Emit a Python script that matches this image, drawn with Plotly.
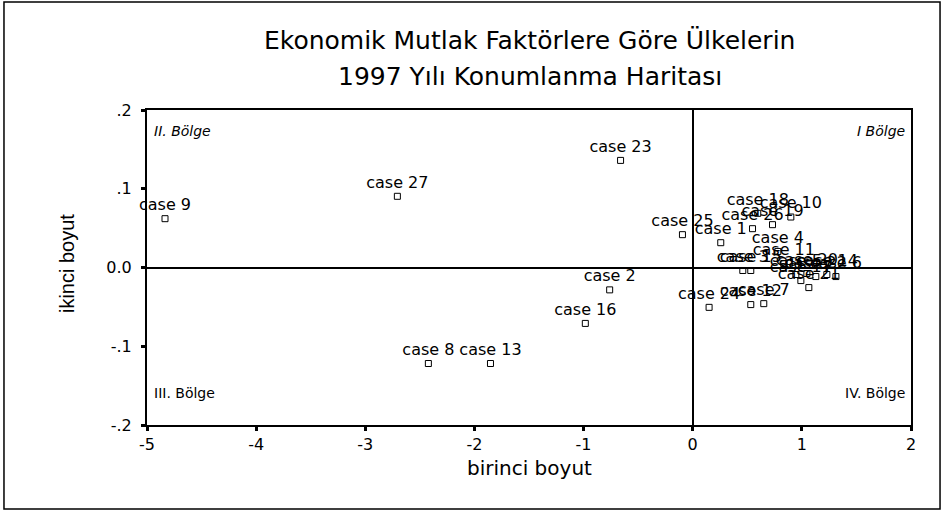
import plotly.graph_objects as go

# ---- data ----
case_labels = [f"case {i}" for i in range(1, 28)]
birinci_boyut = [0.257, -0.761, 0.459, 0.780, 0.945, 1.312, 0.651, -2.422, -4.835, 0.899,
                 0.835, 0.532, -1.853, 1.229, 0.532, -0.984, 0.991, 0.596, 0.731, 1.046,
                 1.064, 1.128, -0.661, 0.150, -0.094, 0.548, -2.706]
ikinci_boyut = [0.0315, -0.0284, -0.0038, 0.0204, -0.0089, -0.0115, -0.0459, -0.1219, 0.062, 0.0641,
                0.0051, -0.0471, -0.1219, -0.0089, -0.0038, -0.071, -0.0166, 0.0688, 0.0544, -0.0076,
                -0.0255, -0.0115, 0.136, -0.0506, 0.0417, 0.0493, 0.0904]

x_ticks = [-5, -4, -3, -2, -1, 0, 1, 2]
x_ticktext = ["-5", "-4", "-3", "-2", "-1", "0", "1", "2"]
y_ticks = [-0.2, -0.1, 0.0, 0.1, 0.2]
y_ticktext = ["-.2", "-.1", "0.0", ".1", ".2"]

title_lines = ["Ekonomik Mutlak Faktörlere Göre Ülkelerin", "1997 Yılı Konumlanma Haritası"]
quadrants = ["II. Bölge", "I Bölge", "III. Bölge", "IV. Bölge"]

FONT = "DejaVu Sans"

fig = go.Figure()
fig.add_trace(go.Scatter(
    x=birinci_boyut, y=ikinci_boyut, text=case_labels,
    mode="markers+text", textposition="top center",
    marker=dict(symbol="square-open", size=6, color="black", line=dict(width=1, color="black")),
    textfont=dict(family=FONT, size=16, color="black"),
    cliponaxis=False, showlegend=False, hoverinfo="text",
))

axis_common = dict(showline=True, linecolor="black", linewidth=2, mirror=True,
                   showgrid=False, zeroline=True, zerolinecolor="black", zerolinewidth=1.5,
                   ticks="outside", ticklen=4, tickwidth=3, tickcolor="black",
                   tickfont=dict(family=FONT, size=16, color="black"))

fig.update_xaxes(range=[-5, 2], tickvals=x_ticks, ticktext=x_ticktext, **axis_common)
fig.update_yaxes(range=[-0.2, 0.2], tickvals=y_ticks, ticktext=y_ticktext,
                 ticklabelstandoff=6, **axis_common)

ann = []
ann.append(dict(text=title_lines[0], x=0.5013, y=1.2222, xref="paper", yref="paper",
                showarrow=False, xanchor="center", yanchor="middle",
                font=dict(family=FONT, size=25, color="black")))
ann.append(dict(text=title_lines[1], x=0.5013, y=1.1048, xref="paper", yref="paper",
                showarrow=False, xanchor="center", yanchor="middle",
                font=dict(family=FONT, size=25, color="black")))
ann.append(dict(text="birinci boyut", x=0.5, y=-0.1365, xref="paper", yref="paper",
                showarrow=False, xanchor="center", yanchor="middle",
                font=dict(family=FONT, size=20, color="black")))
ann.append(dict(text="ikinci boyut", x=-0.1047, y=0.511, xref="paper", yref="paper",
                showarrow=False, xanchor="center", yanchor="middle", textangle=-90,
                font=dict(family="Liberation Sans", size=20, color="black")))
qpos = [(0.0065, 0.933, "left", "italic"), (0.9948, 0.933, "right", "italic"),
        (0.0065, 0.1016, "left", "normal"), (0.9948, 0.1016, "right", "normal")]
for label, (qx, qy, anchor, style) in zip(quadrants, qpos):
    ann.append(dict(text=label, x=qx, y=qy, xref="paper", yref="paper", showarrow=False,
                    xanchor=anchor, yanchor="middle",
                    font=dict(family=FONT, size=14, color="black", style=style)))

fig.update_layout(
    width=945, height=513,
    margin=dict(l=147, r=34, t=110, b=88),
    paper_bgcolor="white", plot_bgcolor="white",
    annotations=ann,
    shapes=[dict(type="rect", xref="paper", yref="paper",
                 x0=-0.1872, x1=1.038, y0=-0.2667, y1=1.343,
                 line=dict(color="black", width=1.5), fillcolor="rgba(0,0,0,0)")],
)

fig.write_html("out.html", config={"displayModeBar": False},
               post_script="document.body.style.margin='0';document.body.style.overflow='hidden';")
